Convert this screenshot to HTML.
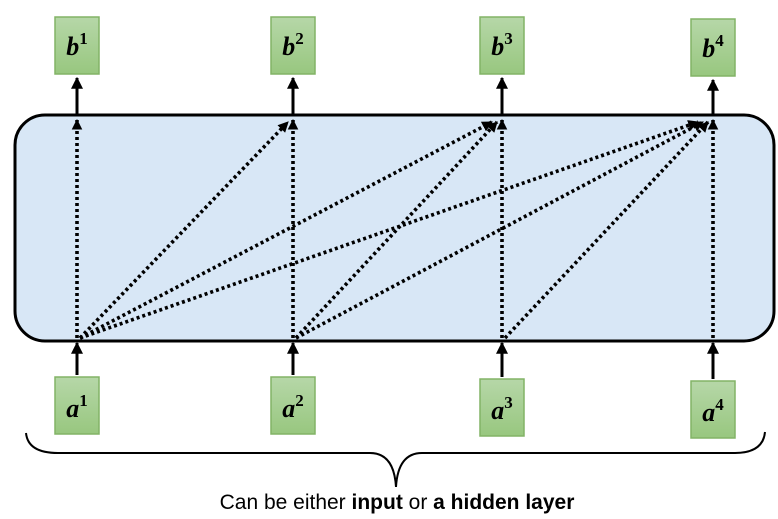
<!DOCTYPE html>
<html><head><meta charset="utf-8"><style>
body{margin:0;background:#fff;width:778px;height:519px;overflow:hidden}
svg{display:block}
</style></head><body>
<svg width="778" height="519" viewBox="0 0 778 519">
<defs>
<marker id="ah" viewBox="0 0 10 10" refX="9" refY="5" markerWidth="4" markerHeight="4" orient="auto"><path d="M0,0L10,5L0,10z" fill="#000"/></marker>
<marker id="ah2" viewBox="0 0 10 10" refX="9" refY="5" markerWidth="3" markerHeight="3" orient="auto"><path d="M0,0L10,5L0,10z" fill="#000"/></marker>
<linearGradient id="g" x1="0" y1="0" x2="0" y2="1"><stop offset="0" stop-color="#b6d7a8"/><stop offset="1" stop-color="#98c77f"/></linearGradient>
</defs>
<rect x="15" y="115" width="759" height="226" rx="30" fill="#d8e7f6" stroke="#000" stroke-width="3"/>
<g id="dots"></g>
<g id="nodes"></g>
<path d="M26,433 Q28,453 58,453 L370,453 Q394,453 396,487 Q398,453 422,453 L735,453 Q763,453 765,432" fill="none" stroke="#000" stroke-width="2"/>
<text x="397" y="509" text-anchor="middle" font-family="Liberation Sans, sans-serif" font-size="21" fill="#000">Can be either <tspan font-weight="bold">input</tspan> or <tspan font-weight="bold">a hidden layer</tspan></text>
</svg>
<script>
const cols=[77,293,502,713];
const bTop=[17,17,17,19];
const aTop=[377,377,379,381];
const ns='http://www.w3.org/2000/svg';
const nodes=document.getElementById('nodes'),dots=document.getElementById('dots');
function mk(t,a,p){const e=document.createElementNS(ns,t);for(const k in a)e.setAttribute(k,a[k]);p.appendChild(e);return e;}
cols.forEach((x,i)=>{
  let r=mk('rect',{x:x-22,y:bTop[i],width:44,height:57,fill:'url(#g)',stroke:'#82b366','stroke-width':1.5},nodes);
  
  
  let t=mk('text',{x:x,y:bTop[i]+38,'text-anchor':'middle','font-family':'Liberation Serif, serif','font-size':26,'font-weight':'bold','font-style':'italic'},nodes);
  t.innerHTML='b<tspan font-size="17" dy="-11" font-style="normal">'+(i+1)+'</tspan>';
  
  
  let l=mk('line',{x1:x,y1:114,x2:x,y2:bTop[i]+61,stroke:'#000','stroke-width':3,'marker-end':'url(#ah)'},nodes);
  
  
  let r2=mk('rect',{x:x-22,y:aTop[i],width:44,height:57,fill:'url(#g)',stroke:'#82b366','stroke-width':1.5},nodes);
  
  
  let t2=mk('text',{x:x,y:aTop[i]+40,'text-anchor':'middle','font-family':'Liberation Serif, serif','font-size':26,'font-weight':'bold','font-style':'italic'},nodes);
  t2.innerHTML='a<tspan font-size="17" dy="-11" font-style="normal">'+(i+1)+'</tspan>';
  
  
  let l2=mk('line',{x1:x,y1:aTop[i]-2,x2:x,y2:343,stroke:'#000','stroke-width':3,'marker-end':'url(#ah)'},nodes);
  
  
}); 
for(let i=0;i<4;i++)for(let j=i;j<4;j++){
  const off=(j-i)*5;
  let d=mk('line',{x1:cols[i]+(j>i?3:0),y1:338,x2:cols[j]-off,y2:120+(j>i?2:0),stroke:'#000','stroke-width':3.6,'stroke-dasharray':'3 3','marker-end':'url(#ah2)'},dots);
  
  
}
</script>
</body></html>
